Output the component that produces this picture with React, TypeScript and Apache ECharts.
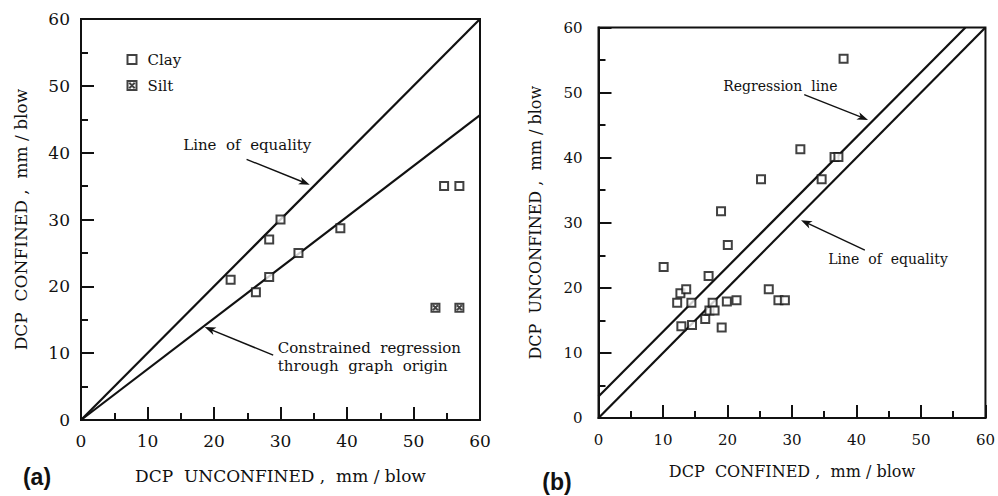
import React, { useEffect, useRef } from "react";
import * as echarts from "echarts";

// ---------- data ----------
const tickValues = [0, 10, 20, 30, 40, 50, 60];

// Panel (a): DCP unconfined (x) vs DCP confined (y)
const clayA: number[][] = [
  [22.5, 21.0], [26.3, 19.1], [28.3, 21.4], [28.3, 27.0], [30.0, 30.0],
  [32.7, 25.0], [39.0, 28.7], [54.6, 35.0], [56.9, 35.0],
];
const siltA: number[][] = [[53.3, 16.8], [56.9, 16.8]];
const equalityA: number[][] = [[0, 0], [60, 60]];
const regressionA: number[][] = [[0, 0], [60, 45.6]];

// Panel (b): DCP confined (x) vs DCP unconfined (y)
const pointsB: number[][] = [
  [10.1, 23.2], [12.2, 17.7], [12.7, 19.15], [12.85, 14.1], [13.6, 19.8],
  [14.4, 17.7], [14.5, 14.3], [16.55, 15.2], [17.07, 21.8], [17.2, 16.5],
  [17.7, 17.7], [18.0, 16.5], [19.0, 31.75], [19.1, 13.9], [19.9, 17.9],
  [20.05, 26.6], [21.4, 18.1], [25.2, 36.7], [26.4, 19.8], [27.9, 18.1],
  [28.9, 18.1], [31.3, 41.3], [34.6, 36.7], [36.6, 40.1], [37.2, 40.1],
  [38.0, 55.2],
];
const equalityB: number[][] = [[0, 0], [60, 60]];
const regressionB: number[][] = [[0, 3.3], [56.9, 60]];

// annotation texts
const annotTextsA = ["Line  of  equality", "Constrained  regression\nthrough  graph  origin"];
const annotTextsB = ["Regression  line", "Line  of  equality"];

const SERIF = "DejaVu Serif";
const INK = "#111";

export default function App() {
  const ref = useRef<HTMLDivElement>(null);

  useEffect(() => {
    document.body.style.margin = "0";
    const chart = echarts.init(ref.current!, null, { renderer: "svg" });

    const axis = (gridIndex: number, name: string, nameGap: number, labelSize: number, nameSize: number, isY: boolean, labelMargin: number) => ({
      type: "value",
      gridIndex,
      min: 0,
      max: 60,
      interval: 10,
      name,
      nameLocation: "middle",
      nameGap,
      nameRotate: isY ? 90 : 0,
      nameTextStyle: { fontFamily: SERIF, fontSize: nameSize, color: INK },
      axisLine: { show: true, lineStyle: { color: INK, width: 2 } },
      axisTick: { show: true, inside: true, length: 13, lineStyle: { color: INK, width: 2 } },
      minorTick: { show: true, splitNumber: 2, length: 7, lineStyle: { color: INK, width: 2 } },
      splitLine: { show: false },
      axisLabel: {
        fontFamily: SERIF,
        fontSize: labelSize,
        color: INK,
        margin: labelMargin,
        formatter: (v: number) => (tickValues.includes(v) ? String(v) : ""),
      },
    });

    const lineSeries = (data: number[][], idx: number) => ({
      type: "line",
      xAxisIndex: idx,
      yAxisIndex: idx,
      data,
      symbol: "none",
      silent: true,
      lineStyle: { color: INK, width: 2.2 },
      z: 2,
    });

    const squareStyle = { color: "#fff", borderColor: INK, borderWidth: 2 };

    const option: any = {
      animation: false,
      backgroundColor: "#fff",
      grid: [
        { left: 81, top: 19, width: 399, height: 401, show: true, borderColor: INK, borderWidth: 2, backgroundColor: "transparent" },
        { left: 598.5, top: 27.5, width: 388.5, height: 390.5, show: true, borderColor: INK, borderWidth: 2, backgroundColor: "transparent" },
      ],
      xAxis: [
        axis(0, "DCP  UNCONFINED ,  mm / blow", 47, 17, 17, false, 12),
        axis(1, "DCP  CONFINED ,  mm / blow", 45, 15, 16, false, 14.5),
      ],
      yAxis: [
        axis(0, "DCP  CONFINED ,  mm / blow", 52, 17, 17, true, 11),
        axis(1, "DCP  UNCONFINED ,  mm / blow", 55, 15, 16, true, 16),
      ],
      legend: {
        data: ["Clay", "Silt"],
        orient: "vertical",
        left: 121.5,
        top: 47,
        itemWidth: 9,
        itemHeight: 9,
        itemGap: 11,
        selectedMode: false,
        textStyle: { fontFamily: SERIF, fontSize: 15, color: INK, padding: [0, 0, 0, 6] },
      },
      series: [
        lineSeries(equalityA, 0),
        lineSeries(regressionA, 0),
        {
          name: "Clay",
          type: "scatter",
          xAxisIndex: 0,
          yAxisIndex: 0,
          data: clayA,
          symbol: "rect",
          symbolSize: 8,
          itemStyle: squareStyle,
          z: 3,
        },
        {
          name: "Silt",
          type: "scatter",
          xAxisIndex: 0,
          yAxisIndex: 0,
          data: siltA,
          symbol: "path://M0,0H10V10H0Z M2,2L8,8 M8,2L2,8",
          symbolSize: 8,
          itemStyle: { color: "#fff", borderColor: INK, borderWidth: 2 },
          z: 3,
        },
        lineSeries(equalityB, 1),
        lineSeries(regressionB, 1),
        {
          name: "Data (b)",
          type: "scatter",
          xAxisIndex: 1,
          yAxisIndex: 1,
          data: pointsB,
          symbol: "rect",
          symbolSize: 8,
          itemStyle: squareStyle,
          z: 3,
        },
      ],
    };

    chart.setOption(option);

    // annotations, placed in data coordinates
    const px = (g: number, p: number[]) => chart.convertToPixel({ gridIndex: g } as any, p) as number[];

    const arrow = (from: number[], to: number[]) => {
      const dx = to[0] - from[0];
      const dy = to[1] - from[1];
      const len = Math.hypot(dx, dy) || 1;
      const ux = dx / len, uy = dy / len;
      const nx = -uy, ny = ux;
      const L = 11, W = 4;
      const bx = to[0] - ux * L, by = to[1] - uy * L;
      return [
        {
          type: "line",
          shape: { x1: from[0], y1: from[1], x2: to[0] - ux * 4, y2: to[1] - uy * 4 },
          style: { stroke: INK, lineWidth: 1.4 },
          silent: true,
        },
        {
          type: "polygon",
          shape: { points: [to, [bx + nx * W, by + ny * W], [to[0] - ux * 8, to[1] - uy * 8], [bx - nx * W, by - ny * W]] },
          style: { fill: INK },
          silent: true,
        },
      ];
    };

    const label = (g: number, text: string, at: number[], align: string, size: number) => {
      const p = px(g, at);
      return {
        type: "text",
        x: p[0],
        y: p[1],
        silent: true,
        style: { text, fontFamily: SERIF, fontSize: size, fill: INK, align, verticalAlign: "middle", lineHeight: 18 },
      };
    };

    const graphic: any[] = [
      label(0, annotTextsA[0], [25.0, 41.2], "center", 15),
      ...arrow(px(0, [24.9, 39.0]), px(0, [34.4, 35.2])),
      label(0, annotTextsA[1], [29.6, 9.36], "left", 15),
      ...arrow(px(0, [28.9, 9.7]), px(0, [18.6, 13.9])),
      label(1, annotTextsB[0], [28.2, 51.0], "center", 14),
      ...arrow(px(1, [31.9, 49.7]), px(1, [41.8, 45.8])),
      label(1, annotTextsB[1], [44.9, 24.5], "center", 14),
      ...arrow(px(1, [41.3, 25.8]), px(1, [31.4, 30.4])),
      {
        type: "text", x: 37, y: 477, silent: true,
        style: { text: "(a)", fontFamily: "Liberation Sans", fontWeight: "bold", fontSize: 23, fill: INK, align: "center", verticalAlign: "middle" },
      },
      {
        type: "text", x: 557, y: 482, silent: true,
        style: { text: "(b)", fontFamily: "Liberation Sans", fontWeight: "bold", fontSize: 23, fill: INK, align: "center", verticalAlign: "middle" },
      },
    ];

    chart.setOption({ graphic });

    return () => chart.dispose();
  }, []);

  return <div ref={ref} style={{ width: 998, height: 496 }} />;
}
